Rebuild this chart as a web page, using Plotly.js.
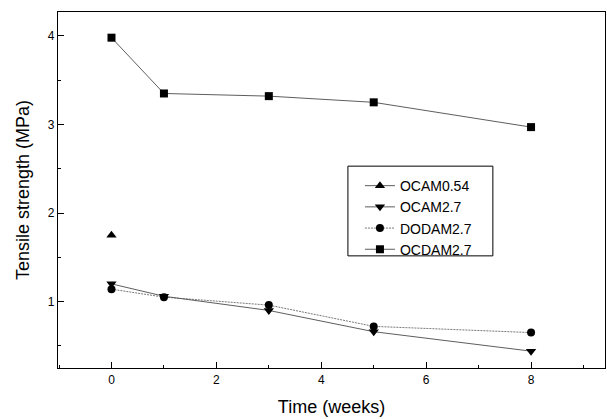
<!DOCTYPE html>
<html><head><meta charset="utf-8">
<script src="https://cdn.plot.ly/plotly-3.0.1.min.js"></script>
<style>html,body{margin:0;padding:0;background:#fff}#chart{width:607px;height:419px}</style>
</head><body><div id="chart"></div>
<script>
const weeks = [0, 1, 3, 5, 8];
const ocam054X = [0];
const ocam054Y = [1.75];
const ocam27Y = [1.20, 1.06, 0.90, 0.66, 0.44];
const dodam27Y = [1.14, 1.05, 0.96, 0.72, 0.65];
const ocdam27Y = [3.98, 3.35, 3.32, 3.25, 2.97];
const xTicks = [0, 2, 4, 6, 8];
const yTicks = [1, 2, 3, 4];

const lineC = '#333';
const traces = [
  {x: ocam054X, y: ocam054Y, name: 'OCAM0.54', mode: 'lines+markers',
   line: {color: lineC, width: 0.8}, marker: {symbol: 'triangle-up', size: 9, color: '#000'}},
  {x: weeks, y: ocam27Y, name: 'OCAM2.7', mode: 'lines+markers',
   line: {color: lineC, width: 0.8}, marker: {symbol: 'triangle-down', size: 9, color: '#000'}},
  {x: weeks, y: dodam27Y, name: 'DODAM2.7', mode: 'lines+markers',
   line: {color: '#555', width: 0.8, dash: '2px,1px'}, marker: {symbol: 'circle', size: 8, color: '#000'}},
  {x: weeks, y: ocdam27Y, name: 'OCDAM2.7', mode: 'lines+markers',
   line: {color: lineC, width: 0.8}, marker: {symbol: 'square', size: 8, color: '#000'}}
];
const font = {family: 'Liberation Sans, Arial, sans-serif', color: '#000'};
const layout = {
  width: 607, height: 419,
  margin: {l: 58, r: 2, t: 12, b: 51},
  paper_bgcolor: '#fff', plot_bgcolor: '#fff',
  font: font,
  showlegend: true,
  legend: {x: 0.552, y: 0.556, xanchor: 'left', yanchor: 'top', borderwidth: 0,
           bgcolor: 'rgba(0,0,0,0)', font: {family: font.family, size: 14, color: '#000'}, tracegroupgap: 0},
  shapes: [{type: 'rect', xref: 'paper', yref: 'paper', x0: 0.530, x1: 0.795, y0: 0.315, y1: 0.567,
            line: {color: '#000', width: 1}, fillcolor: 'rgba(0,0,0,0)', layer: 'below'}],
  xaxis: {range: [-1.02, 9.41], tickvals: xTicks, ticktext: xTicks.map(String),
          ticks: 'inside', ticklen: 6, tickwidth: 1, tickcolor: '#000',
          minor: {dtick: 1, tick0: 0, ticks: 'inside', ticklen: 3, tickcolor: '#000'},
          showline: true, linecolor: '#000', linewidth: 1.2, mirror: true, showgrid: false, zeroline: false,
          tickfont: {size: 12}, title: {text: 'Time (weeks)', font: {size: 18}, standoff: 14}},
  yaxis: {range: [0.25, 4.27], tickvals: yTicks, ticktext: yTicks.map(String),
          ticks: 'inside', ticklen: 6, tickwidth: 1, tickcolor: '#000',
          minor: {dtick: 0.5, tick0: 0, ticks: 'inside', ticklen: 3, tickcolor: '#000'},
          showline: true, linecolor: '#000', linewidth: 1.2, mirror: true, showgrid: false, zeroline: false,
          tickfont: {size: 12}, title: {text: 'Tensile strength (MPa)', font: {size: 18}, standoff: 13}}
};
Plotly.newPlot('chart', traces, layout, {displayModeBar: false, staticPlot: true});
</script></body></html>
